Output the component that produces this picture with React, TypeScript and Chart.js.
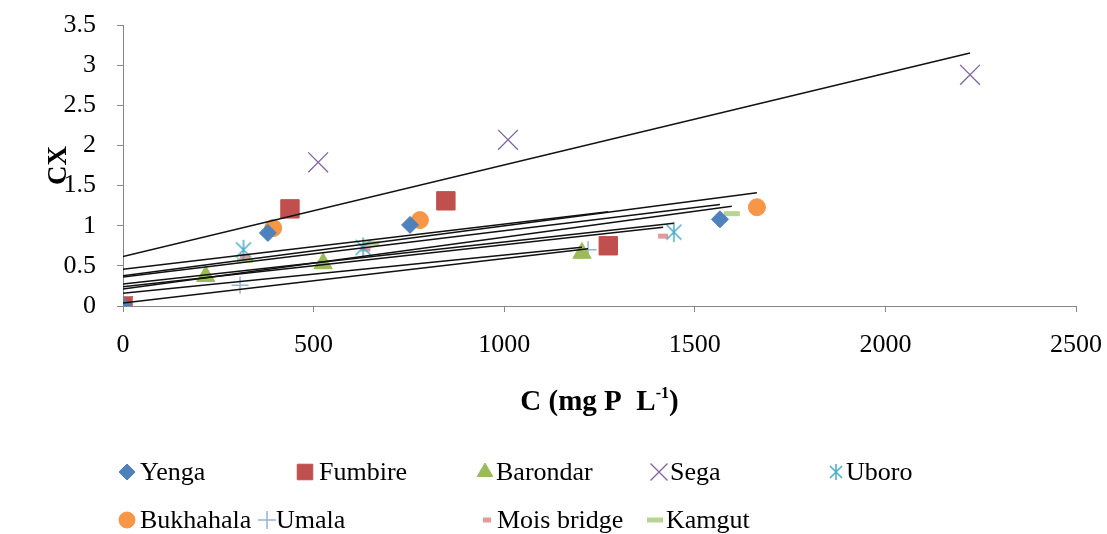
import React, { useEffect, useRef } from 'react';
import { Chart, registerables } from 'chart.js';
import { drawPoint } from 'chart.js/helpers';

Chart.register(...registerables);

// ---- Data ----
const seriesNames = ['Yenga', 'Fumbire', 'Barondar', 'Sega', 'Uboro', 'Bukhahala', 'Umala', 'Mois bridge', 'Kamgut'];

const yengaC = [0, 380, 753, 1566];
const yengaCX = [0, 0.91, 1.01, 1.08];
const fumbireC = [0, 438, 847, 1273];
const fumbireCX = [0, 1.21, 1.31, 0.75];
const barondarC = [0, 217, 525, 1204];
const barondarCX = [0, 0.37, 0.53, 0.66];
const segaC = [0, 512, 1010, 2222];
const segaCX = [0, 1.79, 2.07, 2.88];
const uboroC = [0, 316, 630, 1445];
const uboroCX = [0, 0.7, 0.73, 0.92];
const bukhahalaC = [0, 394, 779, 1663];
const bukhahalaCX = [0, 0.97, 1.07, 1.23];
const umalaC = [0, 307, 1220];
const umalaCX = [0, 0.26, 0.7];
const moisC = [0, 320, 636, 1417];
const moisCX = [0, 0.62, 0.71, 0.87];
const kamgutC = [0, 320, 652, 1597];
const kamgutCX = [0, 0.57, 0.78, 1.15];

const xTicks = [0, 500, 1000, 1500, 2000, 2500];
const yTicks = [0, 0.5, 1, 1.5, 2, 2.5, 3, 3.5];

const xTitle = 'C (mg P  L';
const xTitleSup = '-1';
const yTitle = 'CX';

// ---- Styles ----
const FONT = "'Liberation Serif', 'Times New Roman', serif";
const colors = ['#4F81BD', '#C0504D', '#9BBB59', '#8064A2', '#4BACC6', '#F79646', '#95B3D7', '#E39A9A', '#B8D494'];

function makeAsterisk(color: string, size: number) {
  const c = document.createElement('canvas');
  c.width = size;
  c.height = size;
  const ctx = c.getContext('2d')!;
  ctx.strokeStyle = color;
  ctx.lineWidth = 1.5;
  const m = size / 2;
  const r = size / 2 - 1;
  const d = r * 0.75;
  ctx.beginPath();
  ctx.moveTo(m - d, m - d);
  ctx.lineTo(m + d, m + d);
  ctx.moveTo(m + d, m - d);
  ctx.lineTo(m - d, m + d);
  ctx.moveTo(m, m - r);
  ctx.lineTo(m, m + r);
  ctx.stroke();
  return c;
}

function regression(xs: number[], ys: number[]) {
  const n = xs.length;
  const mx = xs.reduce((a, b) => a + b, 0) / n;
  const my = ys.reduce((a, b) => a + b, 0) / n;
  let sxx = 0;
  let sxy = 0;
  for (let i = 0; i < n; i++) {
    sxx += (xs[i] - mx) * (xs[i] - mx);
    sxy += (xs[i] - mx) * (ys[i] - my);
  }
  const m = sxy / sxx;
  const b = my - m * mx;
  const x0 = Math.min(...xs);
  const x1 = Math.max(...xs);
  return [
    { x: x0, y: b + m * x0 },
    { x: x1, y: b + m * x1 },
  ];
}

const legendLayout = [
  { mx: 127, tx: 140, y: 472 },
  { mx: 305, tx: 319, y: 472 },
  { mx: 485, tx: 496, y: 472 },
  { mx: 659, tx: 670, y: 472 },
  { mx: 836, tx: 846, y: 472 },
  { mx: 127, tx: 140, y: 520 },
  { mx: 267, tx: 276, y: 520 },
  { mx: 487, tx: 497, y: 520 },
  { mx: 655, tx: 666, y: 520 },
];

export default function App() {
  const ref = useRef<HTMLCanvasElement | null>(null);

  useEffect(() => {
    document.body.style.margin = '0';
    const canvas = ref.current!;
    const asterisk = makeAsterisk(colors[4], 22);
    const asteriskSmall = makeAsterisk(colors[4], 18);

    const xs = [yengaC, fumbireC, barondarC, segaC, uboroC, bukhahalaC, umalaC, moisC, kamgutC];
    const ys = [yengaCX, fumbireCX, barondarCX, segaCX, uboroCX, bukhahalaCX, umalaCX, moisCX, kamgutCX];

    const markerStyles: any[] = [
      { pointStyle: 'rectRot', radius: 8.5, borderWidth: 1, legendRadius: 8 },
      { pointStyle: 'rect', radius: 13, borderWidth: 1, legendRadius: 11 },
      { pointStyle: 'triangle', radius: 10.5, borderWidth: 1, legendRadius: 9 },
      { pointStyle: 'crossRot', radius: 14, borderWidth: 1.3, legendRadius: 12 },
      { pointStyle: asterisk, radius: 11, borderWidth: 1.5, legendImage: asteriskSmall },
      { pointStyle: 'circle', radius: 8.5, borderWidth: 1, legendRadius: 8 },
      { pointStyle: 'cross', radius: 8.5, borderWidth: 1.5, legendRadius: 9 },
      { pointStyle: 'line', radius: 5, borderWidth: 5, legendRadius: 4 },
      { pointStyle: 'line', radius: 8, borderWidth: 5, legendRadius: 8 },
    ];

    const pointSets = seriesNames.map((name, i) => ({
      type: 'scatter' as const,
      label: name,
      data: xs[i].map((x, k) => ({ x, y: ys[i][k] })),
      pointStyle: markerStyles[i].pointStyle,
      pointRadius: markerStyles[i].radius,
      pointBorderWidth: markerStyles[i].borderWidth,
      backgroundColor: colors[i],
      borderColor: colors[i],
      pointBackgroundColor: colors[i],
      pointBorderColor: colors[i],
      showLine: false,
      order: 2,
    }));

    const trendSets = seriesNames.map((name, i) => ({
      type: 'scatter' as const,
      label: name + ' trend',
      data: regression(xs[i], ys[i]),
      showLine: true,
      borderColor: '#111',
      borderWidth: 1.5,
      pointRadius: 0,
      fill: false,
      order: 1,
    }));

    const customText = {
      id: 'customText',
      afterDraw(chart: any) {
        const ctx = chart.ctx;
        const area = chart.chartArea;
        ctx.save();
        ctx.fillStyle = '#000';
        // y title
        ctx.font = `bold 27px ${FONT}`;
        ctx.textAlign = 'center';
        ctx.textBaseline = 'middle';
        ctx.save();
        ctx.translate(59, (area.top + area.bottom) / 2);
        ctx.rotate(-Math.PI / 2);
        ctx.fillText(yTitle, 0, 0);
        ctx.restore();
        // x title with superscript
        const big = `bold 29px ${FONT}`;
        const small = `bold 16px ${FONT}`;
        ctx.textAlign = 'left';
        ctx.textBaseline = 'alphabetic';
        ctx.font = big;
        const w1 = ctx.measureText(xTitle).width;
        const w3 = ctx.measureText(')').width;
        ctx.font = small;
        const w2 = ctx.measureText(xTitleSup).width;
        const total = w1 + w2 + w3;
        let x = (area.left + area.right) / 2 - total / 2;
        const base = 410;
        ctx.font = big;
        ctx.fillText(xTitle, x, base);
        x += w1;
        ctx.font = small;
        ctx.fillText(xTitleSup, x, base - 12);
        x += w2;
        ctx.font = big;
        ctx.fillText(')', x, base);

        // legend
        ctx.font = `26px ${FONT}`;
        ctx.textBaseline = 'middle';
        seriesNames.forEach((name, i) => {
          const L = legendLayout[i];
          const st = markerStyles[i];
          ctx.fillStyle = colors[i];
          ctx.strokeStyle = colors[i];
          ctx.lineWidth = st.borderWidth;
          drawPoint(ctx, {
            pointStyle: st.legendImage || st.pointStyle,
            radius: st.legendRadius || st.radius,
            rotation: 0,
            borderWidth: st.borderWidth,
          } as any, L.mx, L.y);
          ctx.fillStyle = '#000';
          ctx.fillText(name, L.tx, L.y + 1);
        });
        ctx.restore();
      },
    };

    const tickFont = { family: FONT, size: 26 };
    const fmt = (v: any) => String(v);

    const chart = new Chart(canvas, {
      type: 'scatter',
      data: { datasets: [...pointSets, ...trendSets] as any },
      options: {
        responsive: false,
        animation: false,
        layout: { padding: { left: 0, right: 31, top: 25, bottom: 0 } },
        plugins: { legend: { display: false }, tooltip: { enabled: false }, title: { display: false } },
        scales: {
          x: {
            type: 'linear',
            min: xTicks[0],
            max: xTicks[xTicks.length - 1],
            afterBuildTicks: (s: any) => {
              s.ticks = xTicks.map((v) => ({ value: v }));
            },
            ticks: { font: tickFont, color: '#000', padding: 18, maxRotation: 0, callback: fmt },
            grid: { drawOnChartArea: false, drawTicks: true, tickLength: 6, color: '#868686' },
            border: { color: '#868686' },
            afterFit: (s: any) => {
              s.height = 534 - 306;
              s.paddingLeft = 0;
              s.paddingRight = 0;
            },
          },
          y: {
            type: 'linear',
            min: yTicks[0],
            max: yTicks[yTicks.length - 1],
            afterBuildTicks: (s: any) => {
              s.ticks = yTicks.map((v) => ({ value: v }));
            },
            ticks: { font: tickFont, color: '#000', padding: 21, callback: fmt },
            grid: { drawOnChartArea: false, drawTicks: true, tickLength: 6, color: '#868686' },
            border: { color: '#868686' },
            afterFit: (s: any) => {
              s.width = 123;
              s.paddingTop = 0;
              s.paddingBottom = 0;
            },
          },
        },
      },
      plugins: [customText],
    });

    return () => chart.destroy();
  }, []);

  return <canvas ref={ref} width={1107} height={534} style={{ display: 'block' }} />;
}
